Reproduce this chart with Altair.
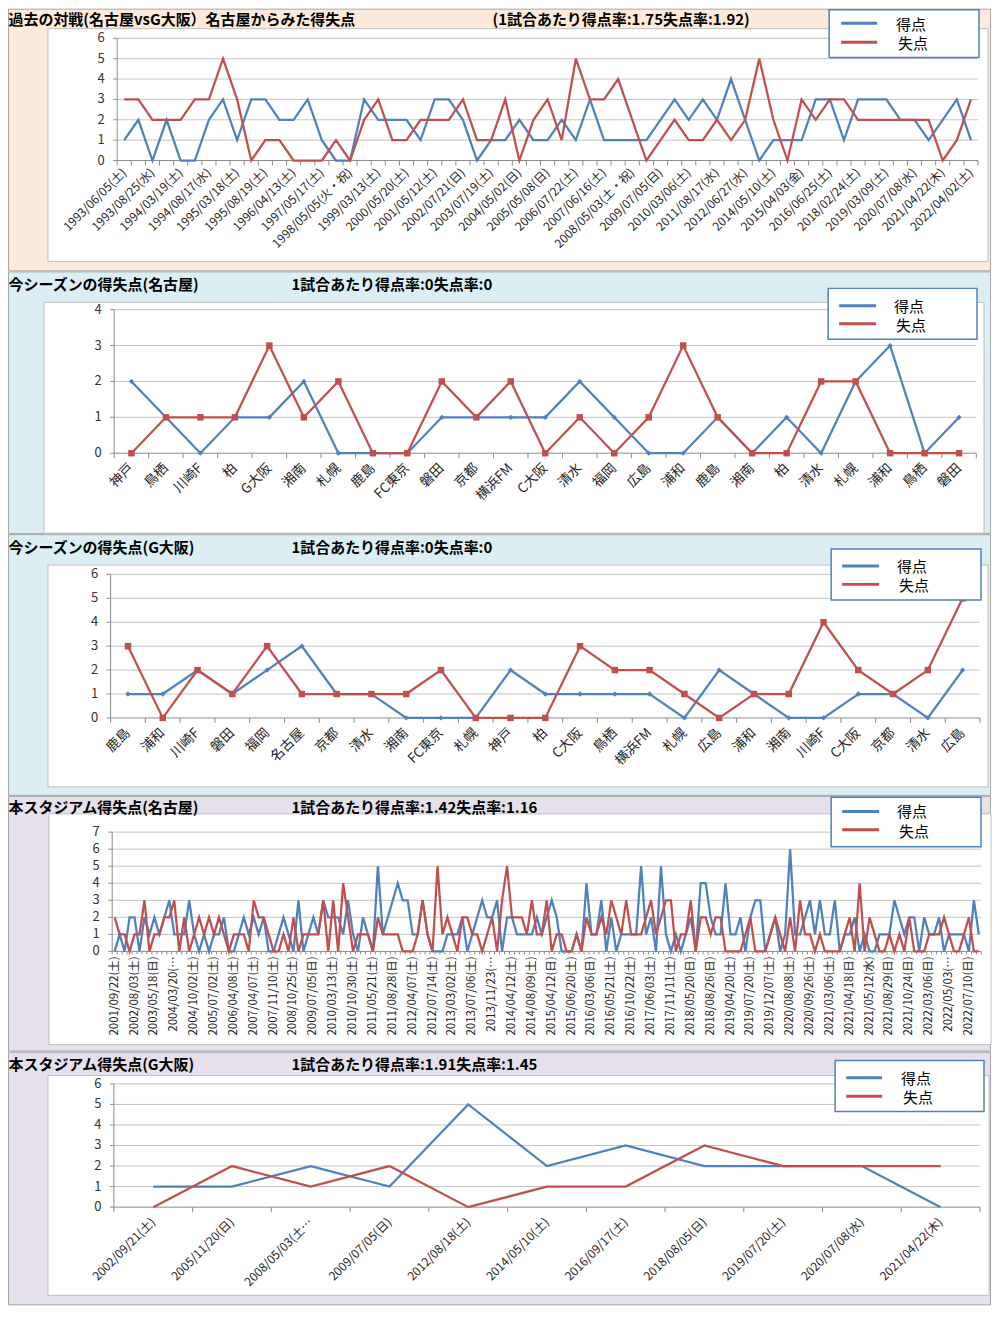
import pandas as pd
import altair as alt

FONT = "Noto Sans CJK JP"
BLUE = "#4F81BD"
RED = "#C0504D"
AXIS_GRAY = "#8C8C8C"
GRID_GRAY = "#C4C4C4"

# ---------------- data ----------------
p1_labels = ["1993/06/05(土)", "1993/08/25(水)", "1994/03/19(土)", "1994/08/17(水)", "1995/03/18(土)",
             "1995/08/19(土)", "1996/04/13(土)", "1997/05/17(土)", "1998/05/05(火・祝)", "1999/03/13(土)",
             "2000/05/20(土)", "2001/05/12(土)", "2002/07/21(日)", "2003/07/19(土)", "2004/05/02(日)",
             "2005/05/08(日)", "2006/07/22(土)", "2007/06/16(土)", "2008/05/03(土・祝)", "2009/07/05(日)",
             "2010/03/06(土)", "2011/08/17(水)", "2012/06/27(水)", "2014/05/10(土)", "2015/04/03(金)",
             "2016/06/25(土)", "2018/02/24(土)", "2019/03/09(土)", "2020/07/08(水)", "2021/04/22(木)",
             "2022/04/02(土)"]
p1_scored = [1, 2, 0, 2, 0, 0, 2, 3, 1, 3, 3, 2, 2, 3, 1, 0, 0, 3, 2, 2, 2, 1, 3, 3, 2, 0, 1,
             1, 2, 1, 1, 2, 1, 3, 1, 1, 1, 1, 2, 3, 2, 3, 2, 4, 2, 0, 1, 1, 1, 3, 3, 1, 3, 3, 3,
             2, 2, 1, 2, 3, 1]
p1_conceded = [3, 3, 2, 2, 2, 3, 3, 5, 3, 0, 1, 1, 0, 0, 0, 1, 0, 2, 3, 1, 1, 2, 2, 2, 3, 1, 1,
               3, 0, 2, 3, 1, 5, 3, 3, 4, 2, 0, 1, 2, 1, 1, 2, 1, 2, 5, 2, 0, 3, 2, 3, 3, 2, 2, 2,
               2, 2, 2, 0, 1, 3]

p2_teams = ["神戸", "鳥栖", "川崎F", "柏", "G大阪", "湘南", "札幌", "鹿島", "FC東京", "磐田", "京都", "横浜FM",
            "C大阪", "清水", "福岡", "広島", "浦和", "鹿島", "湘南", "柏", "清水", "札幌", "浦和", "鳥栖", "磐田"]
p2_scored = [2, 1, 0, 1, 1, 2, 0, 0, 0, 1, 1, 1, 1, 2, 1, 0, 0, 1, 0, 1, 0, 2, 3, 0, 1]
p2_conceded = [0, 1, 1, 1, 3, 1, 2, 0, 0, 2, 1, 2, 0, 1, 0, 1, 3, 1, 0, 0, 2, 2, 0, 0, 0]

p3_teams = ["鹿島", "浦和", "川崎F", "磐田", "福岡", "名古屋", "京都", "清水", "湘南", "FC東京", "札幌", "神戸",
            "柏", "C大阪", "鳥栖", "横浜FM", "札幌", "広島", "浦和", "湘南", "川崎F", "C大阪", "京都", "清水", "広島"]
p3_scored = [1, 1, 2, 1, 2, 3, 1, 1, 0, 0, 0, 2, 1, 1, 1, 1, 0, 2, 1, 0, 0, 1, 1, 0, 2]
p3_conceded = [3, 0, 2, 1, 3, 1, 1, 1, 1, 2, 0, 0, 0, 3, 2, 2, 1, 0, 1, 1, 4, 2, 1, 2, 5]

p4_labels = ["2001/09/22(土)", "2002/08/03(土)", "2003/05/18(日)", "2004/03/20(…", "2004/10/02(土)",
             "2005/07/02(土)", "2006/04/08(土)", "2007/04/07(土)", "2007/11/10(土)", "2008/10/25(土)",
             "2009/07/05(日)", "2010/03/13(土)", "2010/10/30(土)", "2011/05/21(土)", "2011/08/28(日)",
             "2012/04/07(土)", "2012/07/14(土)", "2013/03/02(土)", "2013/07/06(土)", "2013/11/23(…",
             "2014/04/12(土)", "2014/08/09(土)", "2015/04/12(日)", "2015/06/20(土)", "2016/03/06(日)",
             "2016/05/21(土)", "2016/10/22(土)", "2017/06/03(土)", "2017/11/11(土)", "2018/05/20(日)",
             "2018/08/26(日)", "2019/04/20(土)", "2019/07/20(土)", "2019/12/07(土)", "2020/08/08(土)",
             "2020/09/26(土)", "2021/03/06(土)", "2021/04/18(日)", "2021/05/12(水)", "2021/08/29(日)",
             "2021/10/24(日)", "2022/03/06(日)", "2022/05/03(…", "2022/07/10(日)"]
p4_scored = [0, 1, 0, 2, 2, 0, 2, 1, 2, 1,
             2, 3, 1, 1, 1, 3, 1, 0, 1, 0,
             1, 1, 2, 0, 0, 1, 2, 1, 2, 1,
             2, 0, 0, 1, 2, 1, 0, 3, 0, 1,
             2, 1, 3, 2,
             2, 2, 1, 3, 1, 0, 2, 1, 0, 5,
             1, 2, 3, 4, 3, 3, 1, 1, 3, 1,
             0, 0, 0, 1, 1, 1, 2, 0, 1, 2,
             3, 2, 2, 3, 0, 2, 2, 1, 1, 1,
             1, 2, 1, 2, 3, 2, 0, 0, 0, 1,
             0, 4, 1, 1, 3, 0, 2, 0, 1, 1,
             1, 1, 5, 1, 2, 0, 5, 1, 0, 1,
             0, 1, 2, 0, 4, 4, 2, 1, 1, 4,
             1, 1, 2, 0, 2, 3, 3, 0, 1, 2,
             0, 1, 6, 1, 1, 2, 3, 1, 3, 1,
             1, 3, 0, 1, 1, 2, 0, 1, 0, 0,
             1, 1, 1, 3, 2, 1, 2, 2, 0, 2,
             1, 1, 2, 0, 1, 1, 1, 1, 0, 3, 1]
p4_conceded = [2, 1, 1, 0, 1, 1, 3, 0, 1, 1,
               2, 2, 3, 0, 2, 0, 1, 2, 1, 2,
               1, 2, 1, 0, 1, 1, 1, 0, 3, 2,
               2, 1, 0, 0, 1, 0, 2, 0, 1, 1,
               1, 1, 3, 0, 3, 0,
               4, 2, 0, 1, 1, 1, 0, 2, 1, 1,
               1, 1, 0, 0, 0, 1, 3, 1, 0, 5,
               1, 2, 1, 0, 2, 2, 1, 1, 0, 1,
               2, 0, 3, 5, 2, 2, 2, 1, 3, 1,
               1, 3, 0, 1, 1, 0, 0, 1, 0, 2,
               1, 1, 2, 1, 3, 2, 1, 3, 1, 1,
               1, 2, 3, 1, 2,
               3, 3, 0, 1, 1, 3, 0, 2, 2, 1,
               2, 2, 0, 0, 0, 0, 1, 2, 0, 0,
               0, 1, 2, 1, 0, 2, 0, 3, 1, 1,
               0, 1, 0, 0, 0, 0, 1, 2, 0, 4,
               0, 2, 1, 0, 0, 1, 0, 1, 0, 2,
               0, 0, 0, 1, 1, 1, 2, 1, 0, 0,
               1, 2, 0, 0]

p5_labels = ["2002/09/21(土)", "2005/11/20(日)", "2008/05/03(土…", "2009/07/05(日)", "2012/08/18(土)",
             "2014/05/10(土)", "2016/09/17(土)", "2018/08/05(日)", "2019/07/20(土)", "2020/07/08(水)",
             "2021/04/22(木)"]
p5_scored = [1, 1, 2, 1, 5, 2, 3, 2, 2, 2, 0]
p5_conceded = [0, 2, 1, 2, 0, 1, 1, 3, 2, 2, 2]

SERIES = ["得点", "失点"]

# page-pixel layout of each panel (left edge of every panel cell is page x = 8)
panels = [
    dict(title="過去の対戦(名古屋vsG大阪）名古屋からみた得失点", sub="(1試合あたり得点率:1.75失点率:1.92)",
         title_y=19.3, sub_x=493,
         labels=[p1_labels[i // 2] if i % 2 == 0 else "" for i in range(len(p1_scored))],
         scored=p1_scored, conceded=p1_conceded, ymax=6, markers=False,
         plot=(117.3, 37.7, 979.0, 160.0), cell=(8, 271), bgcolor="#FDEADA",
         box=(48, 28, 989, 261), legend=(830, 9, 980, 57), leg_lines=(842, 878, 22.7, 41.7),
         leg_text=(897, 24, 43.3), lab_font=12, lab_angle=315, lab_off=10, tick=5),
    dict(title="今シーズンの得失点(名古屋)", sub="1試合あたり得点率:0失点率:0",
         title_y=285, sub_x=291.7,
         labels=p2_teams, scored=p2_scored, conceded=p2_conceded, ymax=4, markers=True,
         plot=(114.3, 309.3, 977.3, 453.0), cell=(271, 534), bgcolor="#DAEEF3",
         box=(44, 302, 985, 533), legend=(829, 288, 978, 339), leg_lines=(840, 877, 305.5, 323.5),
         leg_text=(895, 306.5, 326), lab_font=13.5, lab_angle=315, lab_off=13, tick=5),
    dict(title="今シーズンの得失点(G大阪)", sub="1試合あたり得点率:0失点率:0",
         title_y=548.3, sub_x=291.7,
         labels=p3_teams, scored=p3_scored, conceded=p3_conceded, ymax=6, markers=True,
         plot=(110.7, 574.3, 981.0, 718.0), cell=(534, 796), bgcolor="#DAEEF3",
         box=(48, 565, 989, 787), legend=(832, 549, 982, 600), leg_lines=(843, 880, 566, 584.3),
         leg_text=(898, 567, 586), lab_font=13.5, lab_angle=315, lab_off=13, tick=5),
    dict(title="本スタジアム得失点(名古屋)", sub="1試合あたり得点率:1.42失点率:1.16",
         title_y=807.7, sub_x=291.7,
         labels=[p4_labels[i // 4] if i % 4 == 0 else "" for i in range(len(p4_scored))],
         scored=p4_scored, conceded=p4_conceded, ymax=7, markers=False,
         plot=(112.3, 832.3, 982.3, 951.7), cell=(796, 1052), bgcolor="#E5E0EC",
         box=(49, 814, 992, 1045), legend=(832, 797.5, 982, 847), leg_lines=(843, 880, 811.7, 830),
         leg_text=(898, 812.5, 832), lab_font=11.5, lab_angle=270, lab_off=5, tick=3),
    dict(title="本スタジアム得失点(G大阪)", sub="1試合あたり得点率:1.91失点率:1.45",
         title_y=1065, sub_x=291.7,
         labels=p5_labels, scored=p5_scored, conceded=p5_conceded, ymax=6, markers=False,
         plot=(114.0, 1084.3, 981.0, 1207.7), cell=(1052, 1306), bgcolor="#E5E0EC",
         box=(48, 1076, 990, 1296), legend=(836, 1061, 985, 1112), leg_lines=(847, 883, 1078.3, 1096.7),
         leg_text=(902, 1079.5, 1098.5), lab_font=12, lab_angle=315, lab_off=13, tick=5),
]

CELL_LEFT, CELL_RIGHT = 8, 992
TITLE_SIZE = 15


def make_panel(p):
    top, bottom = p["cell"]
    CW, CH = CELL_RIGHT - CELL_LEFT, bottom - top
    X0, Y0, X1, Y1 = p["plot"]

    def rx(v):
        return v - CELL_LEFT

    def ry(v):
        return v - top

    n = len(p["scored"])
    ymax = p["ymax"]
    one = pd.DataFrame({"k": [0]})
    xscale = alt.Scale(type="band", domain=list(range(n)), paddingInner=0, paddingOuter=0,
                       range=[rx(X0), rx(X1)])
    yscale = alt.Scale(domain=[0, ymax], nice=False, zero=True, range=[ry(Y1), ry(Y0)])

    def X(field, band=0.5):
        return alt.X(field, scale=xscale, bandPosition=band, axis=None)

    def Y(field):
        return alt.Y(field, scale=yscale, axis=None)

    def rect(x1, y1, x2, y2, **kw):
        return alt.Chart(one).mark_rect(**kw).encode(
            x=alt.value(rx(x1)), x2=alt.value(rx(x2)), y=alt.value(ry(y1)), y2=alt.value(ry(y2)))

    def text(x, y, s, **kw):
        return alt.Chart(one).mark_text(align="left", baseline="middle", font=FONT, **kw).encode(
            x=alt.value(rx(x)), y=alt.value(ry(y)), text=alt.value(s))

    def hline(x1, x2, y, color, w):
        return alt.Chart(one).mark_rule(color=color, strokeWidth=w).encode(
            x=alt.value(rx(x1)), x2=alt.value(rx(x2)), y=alt.value(ry(y)))

    layers = []
    # panel background and white chart box
    layers.append(rect(CELL_LEFT + 0.5, top + 0.5, CELL_RIGHT - 0.5, bottom - 0.5,
                       fill=p["bgcolor"], stroke="#A6A6A6", strokeWidth=1))
    layers.append(rect(*p["box"], fill="white", stroke="#BFBFBF", strokeWidth=1))

    # ---- y axis: gridlines, ticks, labels, axis line ----
    ticks_df = pd.DataFrame({"value": list(range(ymax + 1)),
                             "label": [str(v) for v in range(ymax + 1)]})
    layers.append(alt.Chart(ticks_df).transform_filter("datum.value > 0").mark_rule(
        color=GRID_GRAY, strokeWidth=1).encode(
        y=Y("value:Q"), x=alt.value(rx(X0)), x2=alt.value(rx(X1))))
    layers.append(alt.Chart(ticks_df).mark_rule(color=AXIS_GRAY, strokeWidth=1).encode(
        y=Y("value:Q"), x=alt.value(rx(X0) - 4), x2=alt.value(rx(X0))))
    layers.append(alt.Chart(ticks_df).mark_text(
        align="right", baseline="middle", font=FONT, fontSize=13, color="#333333").encode(
        y=Y("value:Q"), x=alt.value(rx(X0) - 12.5), text="label:N"))
    span_df = pd.DataFrame({"lo": [0], "hi": [ymax]})
    layers.append(alt.Chart(span_df).mark_rule(color=AXIS_GRAY, strokeWidth=1).encode(
        y=Y("lo:Q"), y2="hi:Q", x=alt.value(rx(X0))))

    # ---- x axis: axis line, ticks at category boundaries, labels ----
    layers.append(alt.Chart(span_df).mark_rule(color=AXIS_GRAY, strokeWidth=1).encode(
        y=Y("lo:Q"), x=alt.value(rx(X0)), x2=alt.value(rx(X1))))
    cat_df = pd.DataFrame({"idx": list(range(n)), "label": p["labels"]})
    layers.append(alt.Chart(cat_df).mark_rule(color=AXIS_GRAY, strokeWidth=1).encode(
        x=X("idx:O", band=0), y=alt.value(ry(Y1)), y2=alt.value(ry(Y1) + p["tick"])))
    layers.append(alt.Chart(cat_df).transform_filter(f"datum.idx == {n - 1}").mark_rule(
        color=AXIS_GRAY, strokeWidth=1).encode(
        x=X("idx:O", band=1), y=alt.value(ry(Y1)), y2=alt.value(ry(Y1) + p["tick"])))
    layers.append(alt.Chart(cat_df).transform_filter("datum.label != ''").mark_text(
        align="right", baseline="middle", font=FONT, fontSize=p["lab_font"], color="#262626",
        angle=p["lab_angle"]).encode(
        x=X("idx:O"), y=alt.value(ry(Y1) + p["lab_off"]), text="label:N"))

    # ---- data series ----
    for k, (vals, color) in enumerate([(p["scored"], BLUE), (p["conceded"], RED)]):
        df = pd.DataFrame({"idx": list(range(n)), "value": vals, "series": SERIES[k]})
        enc = dict(x=X("idx:O"), y=Y("value:Q"))
        layers.append(alt.Chart(df).mark_line(color=color, strokeWidth=2.25).encode(**enc))
        if p["markers"]:
            if k == 0:
                mk = alt.Chart(df).mark_point(shape="diamond", filled=True, size=28, color=color, opacity=1)
            else:
                mk = alt.Chart(df).mark_square(size=42, color=color, opacity=1)
            layers.append(mk.encode(**enc))

    # ---- legend ----
    layers.append(rect(*p["legend"], fill="white", stroke=BLUE, strokeWidth=1.5))
    lx1, lx2, ly1, ly2 = p["leg_lines"]
    layers.append(hline(lx1, lx2, ly1, BLUE, 3))
    layers.append(hline(lx1, lx2, ly2, RED, 3))
    tx, ty1, ty2 = p["leg_text"]
    layers.append(text(tx, ty1, SERIES[0], fontSize=15, color="black"))
    layers.append(text(tx + 2, ty2, SERIES[1], fontSize=15, color="black"))

    # ---- titles ----
    layers.append(text(8.5, p["title_y"], p["title"], fontSize=TITLE_SIZE, fontWeight="bold", color="black"))
    layers.append(text(p["sub_x"], p["title_y"], p["sub"], fontSize=TITLE_SIZE, fontWeight="bold",
                       color="black"))

    return alt.layer(*layers).properties(width=CW, height=CH)


chart = alt.vconcat(*[make_panel(p) for p in panels], spacing=0, bounds="flush").properties(
    padding=0, background="white").configure_view(stroke=None)

chart.save("out.html", embed_options={"renderer": "svg", "actions": False})
